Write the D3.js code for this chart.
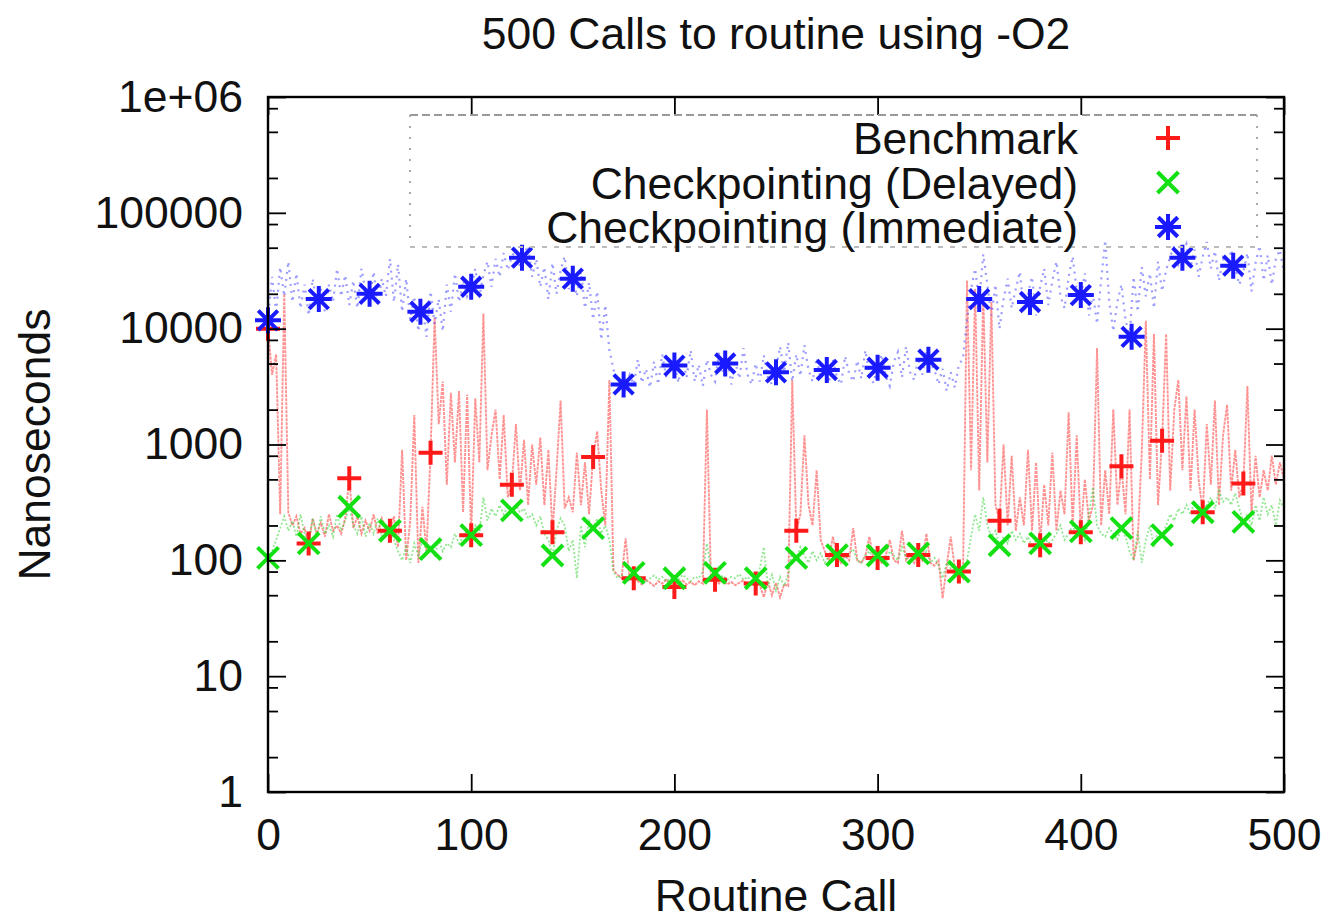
<!DOCTYPE html>
<html>
<head>
<meta charset="utf-8">
<script src="https://cdn.jsdelivr.net/npm/d3@7"></script>
<style>
  body { margin: 0; background: #fff; }
  svg { display: block; font-family: "Liberation Sans", Arial, Helvetica, sans-serif; }
  .axis path { display: none; }
  .axis line { stroke: #000; stroke-width: 1.8; }
  .axis text { font-size: 44.5px; fill: #111; font-family: "Liberation Sans", Arial, sans-serif; }
</style>
</head>
<body>
<div id="chart"></div>
<script>
// series sampled every 2 calls, x = 0, 2, 4, ... 500
var callStep = 2;

var benchmark = [
  10000, 4000, 6000, 250, 20000, 260, 200, 240, 170, 190,
  140, 230, 170, 210, 160, 250, 180, 200, 170, 230,
  510, 190, 240, 170, 220, 180, 250, 170, 230, 190,
  180, 240, 130, 900, 100, 220, 1800, 95, 290, 120,
  850, 12500, 1500, 3500, 450, 2800, 700, 2900, 260, 2700,
  165, 2500, 700, 13500, 600, 1200, 2000, 500, 1800, 350,
  450, 1500, 400, 1100, 300, 1000, 450, 1150, 300, 900,
  175, 600, 2400, 280, 350, 260, 850, 300, 700, 250,
  780, 1300, 400, 200, 3600, 82, 75, 70, 155, 68,
  70, 66, 62, 68, 64, 60, 66, 63, 68, 62,
  59, 64, 67, 62, 65, 61, 66, 63, 2000, 66,
  68, 63, 66, 62, 65, 61, 64, 67, 62, 65,
  63, 62, 48, 66, 50, 64, 48, 62, 60, 3600,
  180, 250, 1200, 300, 200, 600, 150, 120, 100, 160,
  111, 95, 110, 100, 190, 100, 95, 110, 160, 100,
  105, 95, 110, 150, 100, 95, 180, 100, 110, 95,
  111, 100, 170, 95, 90, 100, 47, 90, 160, 85,
  80, 70, 26000, 600, 22000, 400, 20000, 700, 17000, 300,
  220, 1000, 200, 800, 180, 350, 200, 900, 180, 700,
  140, 450, 200, 850, 180, 400, 250, 1900, 200, 1200,
  175, 500, 220, 300, 6800, 200, 600, 250, 2000, 300,
  640, 250, 2000, 100, 150, 850, 11700, 500, 9000, 300,
  1080, 9000, 400, 2000, 3600, 600, 2600, 400, 2000, 500,
  260, 1500, 450, 2400, 300, 1200, 2200, 400, 900, 350,
  460, 3200, 250, 800, 350, 600, 400, 800, 450, 700,
  500
];

var delayed = [
  105, 120, 150, 190, 240, 180, 220, 160, 250, 170,
  140, 230, 160, 240, 170, 200, 160, 250, 180, 220,
  290, 200, 170, 240, 160, 210, 170, 230, 160, 190,
  180, 150, 120, 100, 130, 95, 140, 110, 150, 120,
  125, 110, 150, 120, 140, 130, 170, 140, 160, 180,
  165, 200, 170, 350, 220, 280, 240, 300, 250, 290,
  270, 300, 260, 280, 230, 250, 200, 240, 170, 150,
  110, 180, 230, 200, 120, 150, 70, 200, 130, 220,
  190, 230, 170, 200, 150, 80, 70, 75, 68, 72,
  78, 68, 72, 66, 70, 74, 68, 72, 66, 70,
  70, 68, 75, 70, 66, 72, 70, 80, 140, 85,
  78, 70, 74, 68, 72, 70, 76, 68, 72, 66,
  70, 85, 130, 60, 75, 55, 72, 60, 75, 120,
  105, 130, 110, 95, 120, 100, 115, 95, 110, 120,
  111, 100, 105, 115, 125, 100, 95, 110, 120, 100,
  110, 105, 95, 120, 110, 100, 130, 105, 95, 110,
  115, 100, 120, 95, 105, 90, 70, 95, 85, 75,
  80, 70, 100, 160, 250, 180, 350, 200, 160, 180,
  135, 160, 140, 180, 150, 170, 140, 160, 130, 150,
  140, 160, 140, 150, 170, 200, 150, 170, 200, 160,
  178, 150, 250, 430, 200, 170, 160, 190, 170, 150,
  190, 160, 120, 100, 180, 95, 150, 200, 130, 180,
  165, 200, 250, 220, 280, 250, 300, 250, 320, 280,
  260, 300, 350, 280, 400, 320, 350, 300, 380, 280,
  215, 250, 200, 300, 220, 350, 250, 300, 200, 330,
  280
];

var immediate = [
  12000, 28000, 14000, 34000, 19000, 38000, 17000, 30000, 15000, 24000,
  13000, 27000, 16000, 22000, 14000, 24000, 17000, 33000, 19000, 29000,
  16000, 26000, 15000, 33000, 21000, 18000, 31000, 16000, 27000, 19000,
  40000, 17000, 36000, 14000, 27000, 12000, 19000, 9500, 16000, 8500,
  21000, 11000, 18000, 9500, 24000, 14000, 30000, 17000, 26000, 19000,
  23000, 33000, 19000, 29000, 38000, 23000, 40000, 28000, 45000, 32000,
  42000, 48000, 34000, 44000, 52000, 28000, 40000, 23000, 34000, 18000,
  37000, 20000, 32000, 42000, 22000, 28000, 19000, 31000, 15000, 25000,
  12000, 21000, 8000, 16000, 6500, 4500, 3000, 3700, 3000, 4000,
  3300, 5400, 3400, 4500, 3100, 5200, 3300, 6000, 3800, 4700,
  5000, 3400, 5600, 3800, 6500, 3500, 4900, 3200, 5400, 4000,
  3500, 6300, 4100, 5400, 3300, 5100, 3700, 6800, 4000, 3300,
  5000, 3500, 5900, 3800, 3300, 4500, 7000, 4200, 7600, 3500,
  6000, 3900, 7200, 4400, 3500, 5600, 3700, 4900, 3400, 5400,
  3800, 3300, 5800, 4100, 3500, 5300, 3700, 6500, 4000, 3400,
  4900, 6000, 3900, 3200, 5200, 6300, 3800, 7000, 4200, 3600,
  5600, 4000, 6500, 5000, 4400, 3300, 4500, 2900, 4200, 3100,
  4900, 5500, 12000, 22000, 33000, 17000, 44000, 24000, 13000, 24000,
  10000, 18000, 27000, 15000, 22000, 31000, 14000, 20000, 28000, 13000,
  23000, 33000, 16000, 26000, 38000, 19000, 15000, 28000, 42000, 21000,
  19000, 30000, 13000, 20000, 11000, 26000, 58000, 17000, 9500, 17000,
  24000, 12000, 8500, 28000, 14000, 34000, 19000, 30000, 15000, 38000,
  21000, 32000, 42000, 52000, 36000, 45000, 54000, 34000, 48000, 28000,
  42000, 56000, 33000, 47000, 26000, 40000, 32000, 48000, 33000, 24000,
  31000, 45000, 21000, 37000, 52000, 26000, 43000, 24000, 40000, 48000,
  30000
];

// point symbols, drawn every 20 calls (red, green) and every 25 calls (blue)
var markCalls20 = [0, 20, 40, 60, 80, 100, 120, 140, 160, 180, 200, 220, 240,
  260, 280, 300, 320, 340, 360, 380, 400, 420, 440, 460, 480];
var markCalls25 = [0, 25, 50, 75, 100, 125, 150, 175, 200, 225, 250, 275, 300,
  325, 350, 375, 400, 425, 450, 475];
var benchmarkMarks = [10000, 140, 510, 180, 850, 165, 450, 175, 780, 70, 59, 68, 63,
  180, 111, 105, 111, 80, 220, 135, 175, 650, 1080, 260, 460];
var delayedMarks = [105, 140, 290, 180, 125, 165, 270, 110, 190, 78, 70, 78, 70,
  105, 111, 110, 115, 80, 135, 140, 178, 190, 165, 260, 215];
var immediateMarks = [11800, 18000, 20000, 14000, 23000, 41000, 27000, 3300, 4800, 5000,
  4200, 4400, 4600, 5400, 18000, 17000, 19500, 8500, 41000, 35000];

var seriesNames = ["Benchmark", "Checkpointing (Delayed)", "Checkpointing (Immediate)"];
var xTicks = [0, 100, 200, 300, 400, 500];
var yTicks = [1, 10, 100, 1000, 10000, 100000, 1000000];
var yTickLabels = ["1", "10", "100", "1000", "10000", "100000", "1e+06"];

var W = 1332, H = 922;
var margin = { top: 97, right: 48, bottom: 130, left: 268 },
    width = W - margin.left - margin.right,
    height = H - margin.top - margin.bottom;

var svg = d3.select("#chart").append("svg")
  .attr("width", W)
  .attr("height", H);

var g = svg.append("g")
  .attr("transform", "translate(" + margin.left + "," + margin.top + ")");

var x = d3.scaleLinear().domain([0, 500]).range([0, width]);
var y = d3.scaleLog().domain([1, 1e6]).range([height, 0]);

// minor log ticks
var yMinor = [];
for (var e = 0; e < 6; e++) {
  [2, 5, 8].forEach(function (m) { yMinor.push(m * Math.pow(10, e)); });
}

g.append("defs").append("clipPath").attr("id", "clip")
  .append("rect").attr("width", width).attr("height", height);

// lines
function toPoints(arr) {
  return arr.map(function (v, i) { return [i * callStep, v]; });
}
var line = d3.line()
  .x(function (d) { return x(d[0]); })
  .y(function (d) { return y(d[1]); });

var plot = g.append("g").attr("clip-path", "url(#clip)");

plot.append("path").datum(toPoints(benchmark))
  .attr("d", line).attr("fill", "none")
  .attr("stroke", "#ff4848").attr("stroke-opacity", 0.6)
  .attr("stroke-width", 1.9).attr("stroke-dasharray", "3,1");

plot.append("path").datum(toPoints(delayed))
  .attr("d", line).attr("fill", "none")
  .attr("stroke", "#3ad23a").attr("stroke-opacity", 0.55)
  .attr("stroke-width", 1.8).attr("stroke-dasharray", "2,2");

plot.append("path").datum(toPoints(immediate))
  .attr("d", line).attr("fill", "none")
  .attr("stroke", "#4a4aff").attr("stroke-opacity", 0.55)
  .attr("stroke-width", 2.2).attr("stroke-dasharray", "2,5");

// symbols
function plusPath(s) { return "M" + (-s) + ",0H" + s + "M0," + (-s) + "V" + s; }
function crossPath(s) { return "M" + (-s) + "," + (-s) + "L" + s + "," + s + "M" + (-s) + "," + s + "L" + s + "," + (-s); }
function starPath(s) { var t = s * 0.75; return plusPath(s) + crossPath(t); }

var symbols = [
  { calls: markCalls20, vals: benchmarkMarks, path: plusPath(12), color: "#ff1a1a" },
  { calls: markCalls20, vals: delayedMarks, path: crossPath(10.5), color: "#12e012" },
  { calls: markCalls25, vals: immediateMarks, path: starPath(13), color: "#1a1aff" }
];

symbols.forEach(function (s) {
  g.append("g").selectAll("path")
    .data(s.vals)
    .enter().append("path")
    .attr("transform", function (d, i) { return "translate(" + x(s.calls[i]) + "," + y(d) + ")"; })
    .attr("d", s.path)
    .attr("fill", "none")
    .attr("stroke", s.color)
    .attr("stroke-width", 4);
});

// axes, ticks pointing inward on all four sides
g.append("g").attr("class", "axis")
  .call(d3.axisLeft(y).tickValues(yTicks).tickSizeInner(-18).tickSizeOuter(0).tickPadding(25)
    .tickFormat(function (d, i) { return yTickLabels[i]; }));
g.append("g").attr("class", "axis")
  .call(d3.axisLeft(y).tickValues(yMinor).tickSizeInner(-10).tickSizeOuter(0).tickFormat(""));
g.append("g").attr("class", "axis")
  .attr("transform", "translate(" + width + ",0)")
  .call(d3.axisRight(y).tickValues(yTicks).tickSizeInner(-18).tickSizeOuter(0).tickFormat(""));
g.append("g").attr("class", "axis")
  .attr("transform", "translate(" + width + ",0)")
  .call(d3.axisRight(y).tickValues(yMinor).tickSizeInner(-10).tickSizeOuter(0).tickFormat(""));
g.append("g").attr("class", "axis")
  .attr("transform", "translate(0," + height + ")")
  .call(d3.axisBottom(x).tickValues(xTicks).tickSizeInner(-18).tickSizeOuter(0).tickPadding(26)
    .tickFormat(d3.format("d")));
g.append("g").attr("class", "axis")
  .call(d3.axisTop(x).tickValues(xTicks).tickSizeInner(-18).tickSizeOuter(0).tickFormat(""));

// frame
g.append("rect")
  .attr("width", width).attr("height", height)
  .attr("fill", "none").attr("stroke", "#000").attr("stroke-width", 2.4);

// legend box
var lx0 = 410 - margin.left, lx1 = 1257 - margin.left, ly0 = 115 - margin.top, ly1 = 247 - margin.top;
var legend = g.append("g");
legend.append("line").attr("x1", lx0).attr("x2", lx1).attr("y1", ly0).attr("y2", ly0)
  .attr("stroke", "#999").attr("stroke-width", 2).attr("stroke-dasharray", "8,4");
legend.append("line").attr("x1", lx0).attr("x2", lx0).attr("y1", ly0).attr("y2", ly1)
  .attr("stroke", "#aaa").attr("stroke-width", 2).attr("stroke-dasharray", "2,9");
legend.append("line").attr("x1", lx1).attr("x2", lx1).attr("y1", ly0).attr("y2", ly1)
  .attr("stroke", "#aaa").attr("stroke-width", 2).attr("stroke-dasharray", "2,9");
legend.append("line").attr("x1", lx0).attr("x2", lx1).attr("y1", ly1).attr("y2", ly1)
  .attr("stroke", "#bbb").attr("stroke-width", 2).attr("stroke-dasharray", "5,7");

seriesNames.forEach(function (name, i) {
  var cy = 138 - margin.top + i * 44.5;
  legend.append("text")
    .attr("x", 1078 - margin.left).attr("y", cy).attr("dy", "0.36em")
    .attr("text-anchor", "end")
    .style("font-size", "44.5px").style("fill", "#111")
    .text(name);
  legend.append("path")
    .attr("transform", "translate(" + (1168 - margin.left) + "," + cy + ")")
    .attr("d", symbols[i].path)
    .attr("fill", "none").attr("stroke", symbols[i].color).attr("stroke-width", 4);
});

// titles
svg.append("text")
  .attr("x", margin.left + width / 2).attr("y", 49)
  .attr("text-anchor", "middle")
  .style("font-size", "44.5px").style("fill", "#111")
  .text("500 Calls to routine using -O2");

svg.append("text")
  .attr("x", margin.left + width / 2).attr("y", 911)
  .attr("text-anchor", "middle")
  .style("font-size", "44.5px").style("fill", "#111")
  .text("Routine Call");

svg.append("text")
  .attr("transform", "translate(50," + (margin.top + height / 2) + ") rotate(-90)")
  .attr("text-anchor", "middle")
  .style("font-size", "44.5px").style("fill", "#111")
  .text("Nanoseconds");
</script>
</body>
</html>
